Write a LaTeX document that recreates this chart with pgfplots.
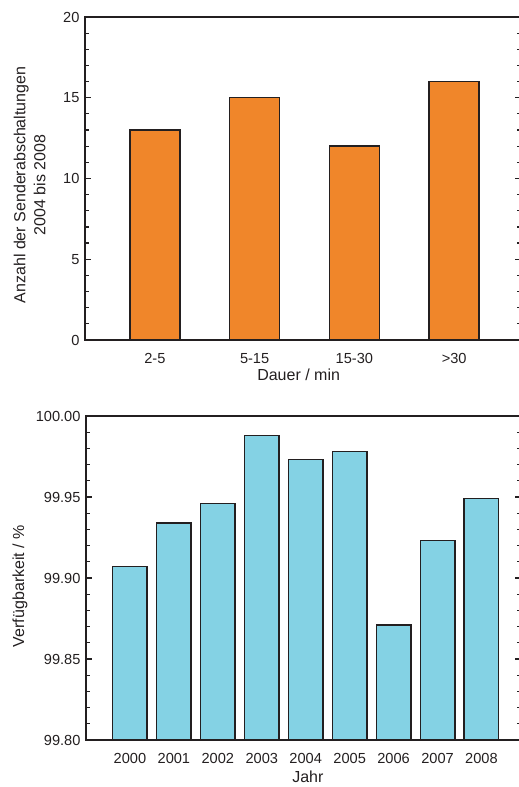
\documentclass[border=0pt]{standalone}
\usepackage{fontspec}
\setmainfont{Liberation Sans}
\usepackage{pgfplots}
\pgfplotsset{compat=1.18}
\definecolor{barorange}{RGB}{240,134,42}
\definecolor{barblue}{RGB}{132,210,228}
\definecolor{ink}{RGB}{35,31,32}
\pgfplotsset{
 common/.style={
  scale only axis,
  axis line style={ink, line width=1.3pt},
  /pgf/number format/assume math mode=true,
  tick label style={font=\fontsize{14.6}{16}\selectfont, text=ink},
  label style={font=\fontsize{16}{20}\selectfont, text=ink},
  xtick style={draw=none},
  ytick style={ink, line width=1.2pt},
  major tick length=6pt, minor tick length=4pt,
  tick align=inside,
  ybar,
  yticklabel style={xshift=-2pt},
  xticklabel style={yshift=-4pt},
 }
}
\begin{document}
\begin{tikzpicture}[x=1pt,y=1pt]
\useasboundingbox (0,0) rectangle (519,787);
% top chart
\begin{axis}[common,
  at={(85pt,447pt)}, anchor=south west,
  width=436pt, height=323pt,
  xmin=0.3, xmax=4.67, ymin=0, ymax=20,
  xtick={1,2,3,4}, xticklabels={2-5,5-15,15-30,>30},
  ytick={0,5,10,15,20}, minor y tick num=4,
  bar width=0.5,
  xlabel={Dauer / min},
  ylabel={Anzahl der Senderabschaltungen\\2004 bis 2008},
  ylabel style={align=center, at={(axis description cs:-0.127,0.48)}, anchor=center},
  xlabel style={at={(axis description cs:0.49,-0.108)}, anchor=center},
]
\addplot[fill=barorange, draw=ink, line width=1.5pt] coordinates {(1,13) (2,15) (3,12) (4,16)};
\end{axis}
% bottom chart
\begin{axis}[common,
  at={(86pt,47pt)}, anchor=south west,
  width=435pt, height=324pt,
  xmin=1999, xmax=2008.9, ymin=99.8, ymax=100,
  xtick={2000,2001,2002,2003,2004,2005,2006,2007,2008},
  xticklabels={2000,2001,2002,2003,2004,2005,2006,2007,2008},
  ytick={99.8,99.85,99.9,99.95,100}, minor y tick num=4,
  yticklabel style={/pgf/number format/.cd, fixed, fixed zerofill, precision=2},
  bar width=0.785,
  xlabel={Jahr},
  ylabel={Verfügbarkeit / \%},
  ylabel style={at={(axis description cs:-0.152,0.475)}, anchor=center},
  xlabel style={at={(axis description cs:0.51,-0.112)}, anchor=center},
]
\addplot[fill=barblue, draw=ink, line width=1.5pt] coordinates {(2000,99.907) (2001,99.934) (2002,99.946) (2003,99.988) (2004,99.973) (2005,99.978) (2006,99.871) (2007,99.923) (2008,99.949)};
\end{axis}
\end{tikzpicture}
\end{document}
